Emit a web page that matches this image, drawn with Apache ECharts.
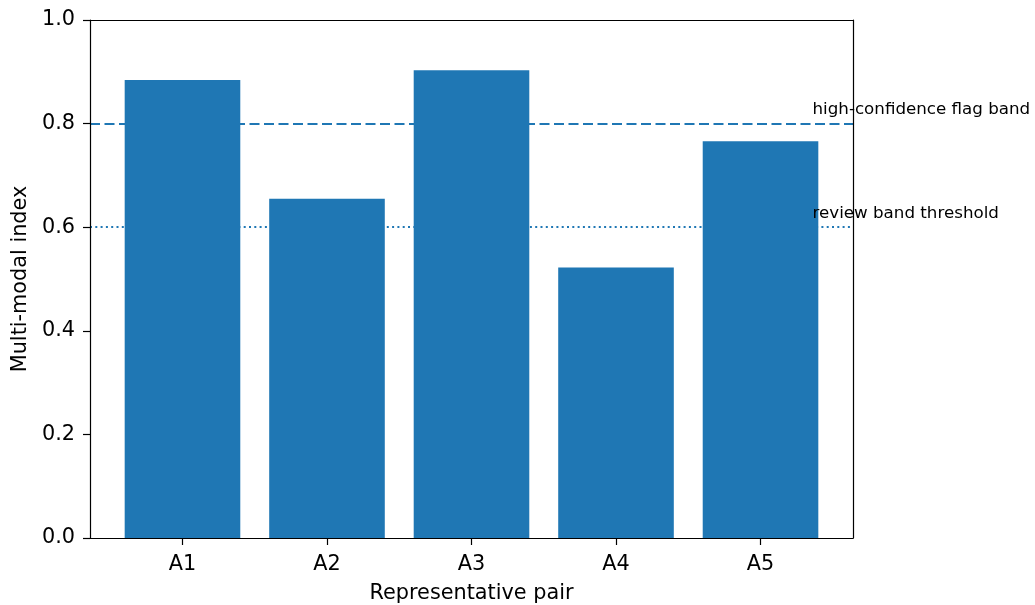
<!DOCTYPE html>
<html>
<head>
<meta charset="utf-8">
<script src="https://cdn.jsdelivr.net/npm/echarts@6/dist/echarts.min.js"></script>
<style>html,body{margin:0;padding:0;background:#fff;}#c{width:1035px;height:605px;}</style>
</head>
<body>
<div id="c"></div>
<script>
var categories = ['A1', 'A2', 'A3', 'A4', 'A5'];
var values = [0.884, 0.655, 0.903, 0.522, 0.766];
var yTicks = [0, 0.2, 0.4, 0.6, 0.8, 1.0];
var thresholds = [0.8, 0.6];
var thresholdLabels = ['high-confidence flag band', 'review band threshold'];
var annotX = 4.36;
var annotOffset = 0.026;

var FONT = 'DejaVu Sans';
var BLUE = '#1f77b4';
var chart = echarts.init(document.getElementById('c'), null, {renderer: 'canvas'});

var barData = values.map(function (v, i) { return [i, v]; });
var annotData = thresholds.map(function (t, i) { return {value: [annotX, t + annotOffset], name: thresholdLabels[i]}; });

var option = {
  animation: false,
  backgroundColor: '#fff',
  grid: {left: 90, right: 182, top: 20, bottom: 67, containLabel: false, outerBoundsMode: 'none'},
  xAxis: [{
    type: 'value', min: -0.64, max: 4.64, z: 10,
    name: 'Representative pair', nameLocation: 'middle', nameGap: 45,
    nameTextStyle: {fontFamily: FONT, fontSize: 20.8, color: '#000'},
    axisLine: {show: true, onZero: false, lineStyle: {color: '#000', width: 1.2}},
    axisTick: {show: true, length: 7, customValues: [0, 1, 2, 3, 4], lineStyle: {color: '#000', width: 1.2}},
    axisLabel: {show: true, customValues: [0, 1, 2, 3, 4], margin: 16, fontFamily: FONT, fontSize: 20.8, color: '#000',
      formatter: function (v) { return categories[Math.round(v)] || ''; }},
    splitLine: {show: false}
  }, {
    type: 'value', min: -0.64, max: 4.64, position: 'top', z: 10,
    axisLine: {show: true, onZero: false, lineStyle: {color: '#000', width: 1.2}},
    axisTick: {show: false}, axisLabel: {show: false}, splitLine: {show: false}
  }],
  yAxis: [{
    type: 'value', min: 0, max: 1, interval: 0.2, z: 10,
    name: 'Multi-modal index', nameLocation: 'middle', nameGap: 52,
    nameTextStyle: {fontFamily: FONT, fontSize: 20.8, color: '#000'},
    axisLine: {show: true, onZero: false, lineStyle: {color: '#000', width: 1.2}},
    axisTick: {show: true, length: 7, lineStyle: {color: '#000', width: 1.2}},
    axisLabel: {margin: 15, fontFamily: FONT, fontSize: 20.8, color: '#000',
      formatter: function (v) { return v.toFixed(1); }},
    splitLine: {show: false}
  }, {
    type: 'value', min: 0, max: 1, position: 'right', z: 10,
    axisLine: {show: true, onZero: false, lineStyle: {color: '#000', width: 1.2}},
    axisTick: {show: false}, axisLabel: {show: false}, splitLine: {show: false}
  }],
  series: [{
    type: 'line', data: [], z: 1, silent: true,
    markLine: {
      silent: true, symbol: 'none', label: {show: false}, z: 1,
      data: [
        {yAxis: thresholds[0], lineStyle: {color: BLUE, width: 2, type: [10, 4.5]}},
        {yAxis: thresholds[1], lineStyle: {color: BLUE, width: 2, type: [2, 3.3]}}
      ]
    }
  }, {
    type: 'bar', data: barData, barWidth: 115.6, z: 2,
    itemStyle: {color: BLUE}
  }, {
    type: 'scatter', data: annotData, symbolSize: 0, z: 5, clip: false, silent: true,
    itemStyle: {opacity: 1},
    label: {show: true, position: 'right', distance: 0, fontFamily: FONT, fontSize: 16.7, color: '#000', opacity: 1,
      formatter: function (p) { return p.name; }}
  }]
};
chart.setOption(option);
</script>
</body>
</html>
